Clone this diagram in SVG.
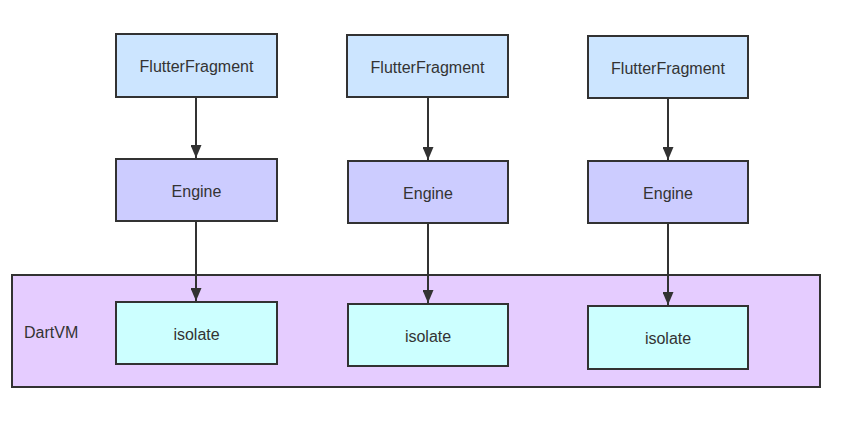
<svg xmlns="http://www.w3.org/2000/svg" width="841" height="423" viewBox="0 0 841 423">
<style>
rect{stroke:#323232;stroke-width:2}
.ff{fill:#cce5ff}.en{fill:#ccccff}.iso{fill:#ccffff}.vm{fill:#e5ccff}
text{font-family:"Liberation Sans",Arial,sans-serif;font-size:16px;fill:#333;text-anchor:middle;dominant-baseline:central}
.c{stroke:#323232;stroke-width:2;fill:none}
</style>
<defs>
<marker id="ah" markerWidth="13" markerHeight="11" refX="13" refY="5.5" orient="auto" markerUnits="userSpaceOnUse">
<path d="M0,0 L13,5.5 L0,11 Z" fill="#323232"/>
</marker>
</defs>
<rect width="841" height="423" fill="#fff" style="stroke:none"/>
<g id="dartvm"><rect class="vm" x="12" y="275" width="808" height="112"/><text x="24" y="332" style="text-anchor:start">DartVM</text></g>
<g id="ff1"><rect class="ff" x="116" y="34" width="161" height="63"/><text x="196.5" y="66">FlutterFragment</text></g>
<g id="ff2"><rect class="ff" x="347" y="35" width="161" height="62"/><text x="427.5" y="67">FlutterFragment</text></g>
<g id="ff3"><rect class="ff" x="588" y="36" width="160" height="62"/><text x="668" y="68">FlutterFragment</text></g>
<g id="en1"><rect class="en" x="116" y="159" width="161" height="62"/><text x="196.5" y="191">Engine</text></g>
<g id="en2"><rect class="en" x="348" y="161" width="160" height="62"/><text x="428" y="193">Engine</text></g>
<g id="en3"><rect class="en" x="588" y="161" width="160" height="62"/><text x="668" y="193">Engine</text></g>
<g id="iso1"><rect class="iso" x="116" y="302" width="161" height="62"/><text x="196.5" y="334">isolate</text></g>
<g id="iso2"><rect class="iso" x="348" y="304" width="160" height="62"/><text x="428" y="336">isolate</text></g>
<g id="iso3"><rect class="iso" x="588" y="306" width="160" height="63"/><text x="668" y="338">isolate</text></g>
<g id="connectors">
<path class="c" d="M196,97 V158" marker-end="url(#ah)"/>
<path class="c" d="M428,97 V160" marker-end="url(#ah)"/>
<path class="c" d="M668,98 V160" marker-end="url(#ah)"/>
<path class="c" d="M196,221 V301" marker-end="url(#ah)"/>
<path class="c" d="M428,223 V303" marker-end="url(#ah)"/>
<path class="c" d="M668,223 V305" marker-end="url(#ah)"/>
</g>
</svg>
